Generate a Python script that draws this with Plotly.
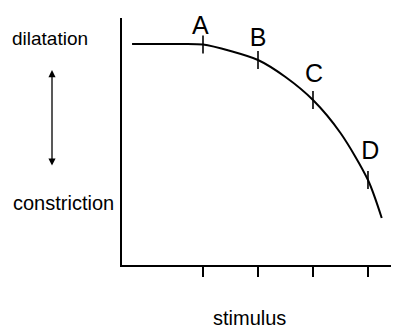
import plotly.graph_objects as go

# stimulus positions of the marked points and the response curve
curve_x = [-0.29, 0.0, 0.5, 1.0, 1.5, 2.0, 2.5, 3.0, 3.5, 4.0, 4.25]
curve_y = [22.1, 22.1, 22.1, 22.05, 21.4, 20.5, 18.8, 16.5, 13.2, 8.5, 4.7]

point_labels = ["A", "B", "C", "D"]
point_x = [1.0, 2.0, 3.0, 4.0]
point_y = [22.05, 20.5, 16.5, 8.5]

label_x = [0.95, 2.0, 3.02, 4.04]
label_y = [23.7, 22.5, 18.9, 11.2]

stim_ticks = [1, 2, 3, 4]

FONT = "Liberation Sans, Arial, Helvetica, sans-serif"

fig = go.Figure()

fig.add_trace(go.Scatter(
    x=curve_x, y=curve_y, mode="lines",
    line=dict(color="black", width=2, shape="spline", smoothing=0.8),
    hoverinfo="skip",
))
# small tick marks across the curve
fig.add_trace(go.Scatter(
    x=point_x, y=point_y, mode="markers",
    marker=dict(symbol="line-ns", size=13, line=dict(color="black", width=1.6)),
    hoverinfo="skip",
))
fig.add_trace(go.Scatter(
    x=label_x, y=label_y, mode="text", text=point_labels,
    textfont=dict(family=FONT, size=25, color="black"),
    textposition="middle center",
    hoverinfo="skip",
    cliponaxis=False,
))

# side labels (paper coords, plot area = 277 x 247 px)
fig.add_annotation(x=-0.404, y=0.919, xref="paper", yref="paper", text="dilatation",
                   showarrow=False, xanchor="left", yanchor="middle",
                   font=dict(family=FONT, size=19, color="black"))
fig.add_annotation(x=-0.401, y=0.251, xref="paper", yref="paper", text="constriction",
                   showarrow=False, xanchor="left", yanchor="middle",
                   font=dict(family=FONT, size=20, color="black"))
fig.add_annotation(x=0.462, y=-0.265, xref="paper", yref="paper", text="stimulus",
                   showarrow=False, xanchor="center", yanchor="bottom", borderpad=0,
                   font=dict(family=FONT, size=20, color="black"))

# double-headed arrow between dilatation and constriction
fig.add_annotation(x=-0.2527, y=0.789, xref="paper", yref="paper",
                   ax=0, ay=97, text="", showarrow=True, arrowside="end+start",
                   arrowhead=2, startarrowhead=2, arrowsize=1.1, arrowwidth=1.3,
                   startarrowsize=1.1, arrowcolor="black")

fig.update_xaxes(range=[-0.473, 4.564], showline=True, linecolor="black",
                 linewidth=2, ticks="outside", ticklen=10, tickwidth=2,
                 tickcolor="black", tickvals=stim_ticks, showticklabels=False,
                 showgrid=False, zeroline=False, fixedrange=True)
fig.update_yaxes(range=[0, 24.7], showline=True, linecolor="black",
                 linewidth=2, ticks="", showticklabels=False,
                 showgrid=False, zeroline=False, fixedrange=True)

# page body has an 8px margin, so the figure is 8px smaller than the window
fig.update_layout(
    width=391, height=323,
    margin=dict(l=114, r=0, t=10, b=66),
    paper_bgcolor="white", plot_bgcolor="white",
    showlegend=False,
)

fig.write_html("out.html")
